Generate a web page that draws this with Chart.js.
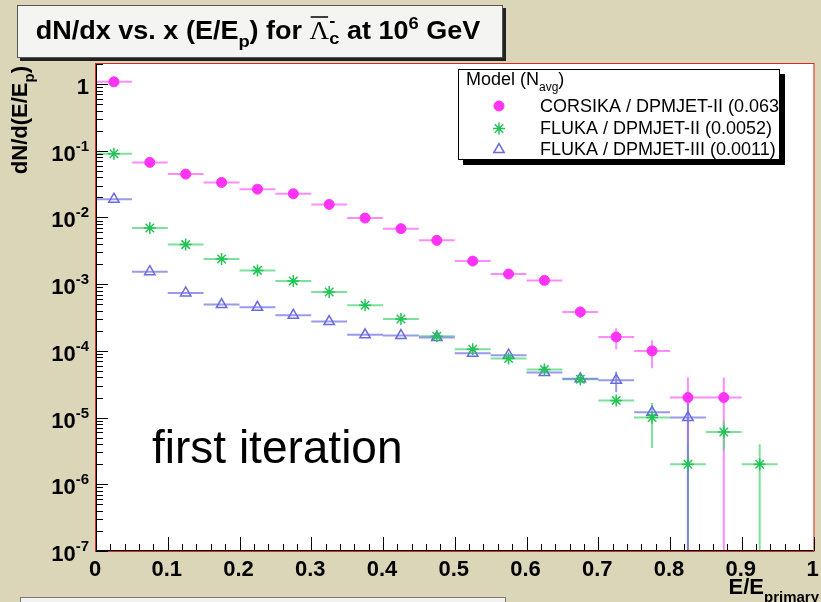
<!DOCTYPE html>
<html>
<head>
<meta charset="utf-8">
<script src="https://cdn.jsdelivr.net/npm/chart.js@4/dist/chart.umd.min.js"></script>
<style>
  html, body { margin: 0; padding: 0; background: #dcd6b8; overflow: hidden; }
  canvas { display: block; }
</style>
</head>
<body>
<canvas id="c" width="821" height="602"></canvas>
<script>
// Bin centres (bin width 0.05 in E/E_primary)
const binCenters = [0.025, 0.075, 0.125, 0.175, 0.225, 0.275, 0.325, 0.375, 0.425, 0.475,
                    0.525, 0.575, 0.625, 0.675, 0.725, 0.775, 0.825, 0.875, 0.925];
const binHalfWidth = 0.025;

// dN/d(E/E_p) per model
const corsikaDpmjet2 = [1.08, 0.067, 0.0447, 0.0335, 0.0266, 0.0227, 0.0157, 0.0098, 0.0068, 0.00454,
                        0.00222, 0.00142, 0.00114, 0.000384, 0.000162, 0.0001, 2.0e-5, 2.0e-5];
const corsikaDpmjet2Err = [0, 0, 0, 0, 0, 0, 0, 0, 0, 0,
                           0, 0, 0, 0.75e-4, 0.57e-4, 0.45e-4, 2.0e-5, 2.0e-5];

const flukaDpmjet2 = [0.090, 0.00694, 0.00392, 0.00238, 0.00161, 0.00112, 0.000764, 0.000483, 0.000301, 0.000166,
                      0.000106, 7.7e-5, 5.27e-5, 3.77e-5, 1.81e-5, 1.0e-5, 2.0e-6, 6.1e-6, 2.0e-6];
const flukaDpmjet2Err = [0, 0, 0, 0, 0, 0, 0, 0, 0, 0,
                         0, 0, 0, 0, 0, 0.65e-5, 2.0e-6, 2.9e-6, 2.0e-6];

const flukaDpmjet3 = [0.0188, 0.00154, 0.000738, 0.000495, 0.000451, 0.000342, 0.000275, 0.000174, 0.00017, 0.000159,
                      9.24e-5, 8.63e-5, 4.75e-5, 3.81e-5, 3.64e-5, 1.2e-5, 1.0e-5];
const flukaDpmjet3Err = [0, 0, 0, 0, 0, 0, 0, 0, 0, 0,
                         0, 0, 0, 0, 1.25e-5, 0, 1.0e-5];

const seriesLabels = ['CORSIKA / DPMJET-II (0.063)', 'FLUKA / DPMJET-II (0.0052)', 'FLUKA / DPMJET-III (0.0011)'];

// Axis labelling
const xTickValues = [0, 0.1, 0.2, 0.3, 0.4, 0.5, 0.6, 0.7, 0.8, 0.9, 1];
const xTickLabels = ['0', '0.1', '0.2', '0.3', '0.4', '0.5', '0.6', '0.7', '0.8', '0.9', '1'];
const yDecades = [0, -1, -2, -3, -4, -5, -6, -7];

const SANS = '"Liberation Sans", Arial, Helvetica, sans-serif';

function toPoints(values) {
  return values.map((v, i) => ({ x: binCenters[i], y: v }));
}

// Draws a run of text pieces (sub/superscripts, overlines) starting at x, baseline y.
function richWidth(ctx, parts) {
  let w = 0;
  for (const p of parts) {
    ctx.font = p.f;
    if (!p.stack) w += ctx.measureText(p.t).width;
  }
  return w;
}
function drawRich(ctx, parts, x, y, align) {
  const total = richWidth(ctx, parts);
  let cx = align === 'center' ? x - total / 2 : align === 'right' ? x - total : x;
  ctx.textBaseline = 'alphabetic';
  ctx.textAlign = 'left';
  for (const p of parts) {
    ctx.font = p.f;
    const w = ctx.measureText(p.t).width;
    ctx.fillText(p.t, cx, y + (p.dy || 0));
    if (p.overline) {
      ctx.save();
      ctx.lineWidth = 1.5;
      ctx.strokeStyle = ctx.fillStyle;
      ctx.beginPath();
      ctx.moveTo(cx + 1, y - p.overline);
      ctx.lineTo(cx + w - 1, y - p.overline);
      ctx.stroke();
      ctx.restore();
    }
    if (!p.stack) cx += w;
  }
  return total;
}

// Page background and white pad
const backdrop = {
  id: 'backdrop',
  beforeDraw(chart) {
    const { ctx, chartArea: a, width, height } = chart;
    ctx.save();
    ctx.fillStyle = '#dcd6b8';
    ctx.fillRect(0, 0, width, height);
    ctx.fillStyle = '#ffffff';
    ctx.fillRect(a.left, a.top, a.right - a.left, a.bottom - a.top);
    ctx.restore();
  }
};

// Horizontal bin-width bars and vertical statistical error bars
const errorBars = {
  id: 'errorBars',
  beforeDatasetsDraw(chart) {
    const { ctx, chartArea: a, scales: { x, y } } = chart;
    ctx.save();
    ctx.beginPath();
    ctx.rect(a.left, a.top, a.right - a.left, a.bottom - a.top);
    ctx.clip();
    ctx.lineWidth = 2;
    chart.data.datasets.forEach((ds) => {
      ctx.strokeStyle = ds.barColor;
      ds.data.forEach((pt, i) => {
        const py = y.getPixelForValue(pt.y);
        const x0 = x.getPixelForValue(pt.x - binHalfWidth);
        const x1 = x.getPixelForValue(pt.x + binHalfWidth);
        ctx.beginPath();
        ctx.moveTo(x0, py);
        ctx.lineTo(x1, py);
        ctx.stroke();
        const e = ds.errors[i] || 0;
        if (e > 0) {
          const px = x.getPixelForValue(pt.x);
          const yHi = y.getPixelForValue(pt.y + e);
          const lo = pt.y - e;
          const yLo = lo > 0 ? y.getPixelForValue(lo) : a.bottom;
          ctx.beginPath();
          ctx.moveTo(px, yHi);
          ctx.lineTo(px, yLo);
          ctx.stroke();
        }
      });
    });
    ctx.restore();
  }
};

// Frame, inward ticks, tick labels, axis titles, title box, legend and note
const decorations = {
  id: 'decorations',
  afterDraw(chart) {
    const { ctx, chartArea: a, scales: { x, y } } = chart;
    ctx.save();

    // pad frame
    ctx.strokeStyle = '#d42a2a';
    ctx.lineWidth = 1;
    ctx.strokeRect(a.left - 0.5, a.top - 0.5, a.right - a.left + 1, a.bottom - a.top + 1);
    ctx.strokeStyle = '#000';
    ctx.beginPath();
    ctx.moveTo(a.left + 0.5, a.top);
    ctx.lineTo(a.left + 0.5, a.bottom - 0.5);
    ctx.lineTo(a.right, a.bottom - 0.5);
    ctx.stroke();

    // x ticks: major every 0.1, minor every 0.02
    ctx.lineWidth = 1;
    ctx.strokeStyle = '#000';
    for (let k = 0; k <= 50; k++) {
      const v = k / 50;
      const px = Math.round(x.getPixelForValue(v)) + 0.5;
      const len = k % 5 === 0 ? 14 : 7;
      ctx.beginPath();
      ctx.moveTo(px, a.bottom);
      ctx.lineTo(px, a.bottom - len);
      ctx.stroke();
    }
    // y ticks: decades and 2..9 sub-divisions
    const yMax = y.max;
    for (const d of yDecades) {
      for (let m = 1; m <= 9; m++) {
        const v = m * Math.pow(10, d);
        if (v > yMax * 1.0001) continue;
        const py = Math.round(y.getPixelForValue(v)) + 0.5;
        const len = m === 1 ? 12 : 7;
        ctx.beginPath();
        ctx.moveTo(a.left, py);
        ctx.lineTo(a.left + len, py);
        ctx.stroke();
      }
    }

    // x tick labels
    ctx.fillStyle = '#000';
    ctx.font = 'bold 22px ' + SANS;
    ctx.textAlign = 'center';
    ctx.textBaseline = 'alphabetic';
    xTickValues.forEach((v, i) => {
      ctx.fillText(xTickLabels[i], x.getPixelForValue(v) - 1, 576);
    });

    // y tick labels
    yDecades.forEach((d) => {
      const py = y.getPixelForValue(Math.pow(10, d));
      const parts = d === 0
        ? [{ t: '1', f: 'bold 22px ' + SANS }]
        : [{ t: '10', f: 'bold 22px ' + SANS }, { t: String(d), f: 'bold 15px ' + SANS, dy: -10 }];
      drawRich(ctx, parts, 89, py + 10, 'right');
    });

    // x axis title
    drawRich(ctx, [
      { t: 'E/E', f: 'bold 22px ' + SANS },
      { t: 'primary', f: 'bold 15px ' + SANS, dy: 8 }
    ], 819, 594, 'right');

    // y axis title (rotated)
    ctx.save();
    ctx.translate(27, 66);
    ctx.rotate(-Math.PI / 2);
    drawRich(ctx, [
      { t: 'dN/d(E/E', f: 'bold 22px ' + SANS },
      { t: 'p', f: 'bold 15px ' + SANS, dy: 7 },
      { t: ')', f: 'bold 22px ' + SANS }
    ], 0, 0, 'right');
    ctx.restore();

    // title box
    ctx.fillStyle = '#222';
    ctx.fillRect(20, 8, 486, 53);
    ctx.fillStyle = '#f4f4f2';
    ctx.fillRect(17, 5, 486, 53);
    ctx.strokeStyle = '#555';
    ctx.lineWidth = 1;
    ctx.strokeRect(17.5, 5.5, 485, 52);
    ctx.fillStyle = '#000';
    ctx.save();
    ctx.translate(258, 0);
    ctx.scale(1.08, 1);
    drawRich(ctx, [
      { t: 'dN/dx vs. x (E/E', f: 'bold 25px ' + SANS },
      { t: 'p', f: 'bold 17px ' + SANS, dy: 8 },
      { t: ') for ', f: 'bold 25px ' + SANS },
      { t: '\u039B', f: '25px "Liberation Serif", serif', overline: 22 },
      { t: '-', f: 'bold 17px ' + SANS, dy: -13, stack: true },
      { t: 'c', f: 'bold 17px ' + SANS, dy: 5 },
      { t: ' at 10', f: 'bold 25px ' + SANS },
      { t: '6', f: 'bold 17px ' + SANS, dy: -10 },
      { t: ' GeV', f: 'bold 25px ' + SANS }
    ], 0, 39, 'center');
    ctx.restore();

    // legend box with drop shadow
    const lx = 458, ly = 69, lw = 322, lh = 91;
    ctx.fillStyle = '#000';
    ctx.fillRect(lx + 5, ly + 5, lw, lh);
    ctx.fillStyle = '#fff';
    ctx.fillRect(lx, ly, lw, lh);
    ctx.strokeStyle = '#000';
    ctx.strokeRect(lx + 0.5, ly + 0.5, lw - 1, lh - 1);
    ctx.fillStyle = '#000';
    drawRich(ctx, [
      { t: 'Model (N', f: '18px ' + SANS },
      { t: 'avg', f: '12px ' + SANS, dy: 6 },
      { t: ')', f: '18px ' + SANS }
    ], 466, 85, 'left');
    const rowY = [106, 128.5, 149.5];
    chart.data.datasets.forEach((ds, i) => {
      ctx.save();
      ctx.fillStyle = ds.backgroundColor;
      ctx.strokeStyle = ds.borderColor;
      ctx.lineWidth = ds.pointBorderWidth;
      Chart.helpers.drawPoint(ctx, { pointStyle: ds.pointStyle, radius: ds.pointRadius, rotation: 0, borderWidth: ds.pointBorderWidth }, 499, rowY[i]);
      ctx.restore();
      ctx.save();
      ctx.beginPath();
      ctx.rect(lx, ly, lw - 1, lh);
      ctx.clip();
      ctx.fillStyle = '#000';
      ctx.font = '18px ' + SANS;
      ctx.textAlign = 'left';
      ctx.textBaseline = 'middle';
      ctx.fillText(ds.label, 540, rowY[i] + 1);
      ctx.restore();
    });

    // annotation
    ctx.fillStyle = '#000';
    ctx.font = '46px ' + SANS;
    ctx.textAlign = 'left';
    ctx.textBaseline = 'alphabetic';
    ctx.fillText('first iteration', 152, 463);

    // neighbouring pad at the bottom edge
    ctx.fillStyle = '#f2f2f0';
    ctx.fillRect(20, 597, 486, 10);
    ctx.strokeStyle = '#777';
    ctx.strokeRect(20.5, 597.5, 485, 10);

    ctx.restore();
  }
};

new Chart(document.getElementById('c'), {
  type: 'scatter',
  data: {
    datasets: [
      {
        label: seriesLabels[0],
        data: toPoints(corsikaDpmjet2),
        errors: corsikaDpmjet2Err,
        barColor: 'rgba(255, 110, 255, 0.8)',
        pointStyle: 'circle',
        pointRadius: 5,
        pointBorderWidth: 1,
        backgroundColor: '#ff33f5',
        borderColor: '#ff33f5'
      },
      {
        label: seriesLabels[1],
        data: toPoints(flukaDpmjet2),
        errors: flukaDpmjet2Err,
        barColor: 'rgba(80, 215, 120, 0.75)',
        pointStyle: 'star',
        pointRadius: 6,
        pointBorderWidth: 1.5,
        backgroundColor: '#22c455',
        borderColor: '#22c455'
      },
      {
        label: seriesLabels[2],
        data: toPoints(flukaDpmjet3),
        errors: flukaDpmjet3Err,
        barColor: 'rgba(120, 120, 230, 0.75)',
        pointStyle: 'triangle',
        pointRadius: 6,
        pointBorderWidth: 1.5,
        backgroundColor: 'rgba(255,255,255,0)',
        borderColor: '#6a6ae0'
      }
    ]
  },
  options: {
    responsive: false,
    animation: false,
    devicePixelRatio: 1,
    layout: { padding: { left: 96, top: 64, right: 4, bottom: 51 } },
    plugins: { legend: { display: false }, tooltip: { enabled: false }, title: { display: false } },
    scales: {
      x: { type: 'linear', min: 0, max: 1, display: false },
      y: { type: 'logarithmic', min: 1e-7, max: 2, display: false }
    }
  },
  plugins: [backdrop, errorBars, decorations]
});
</script>
</body>
</html>
